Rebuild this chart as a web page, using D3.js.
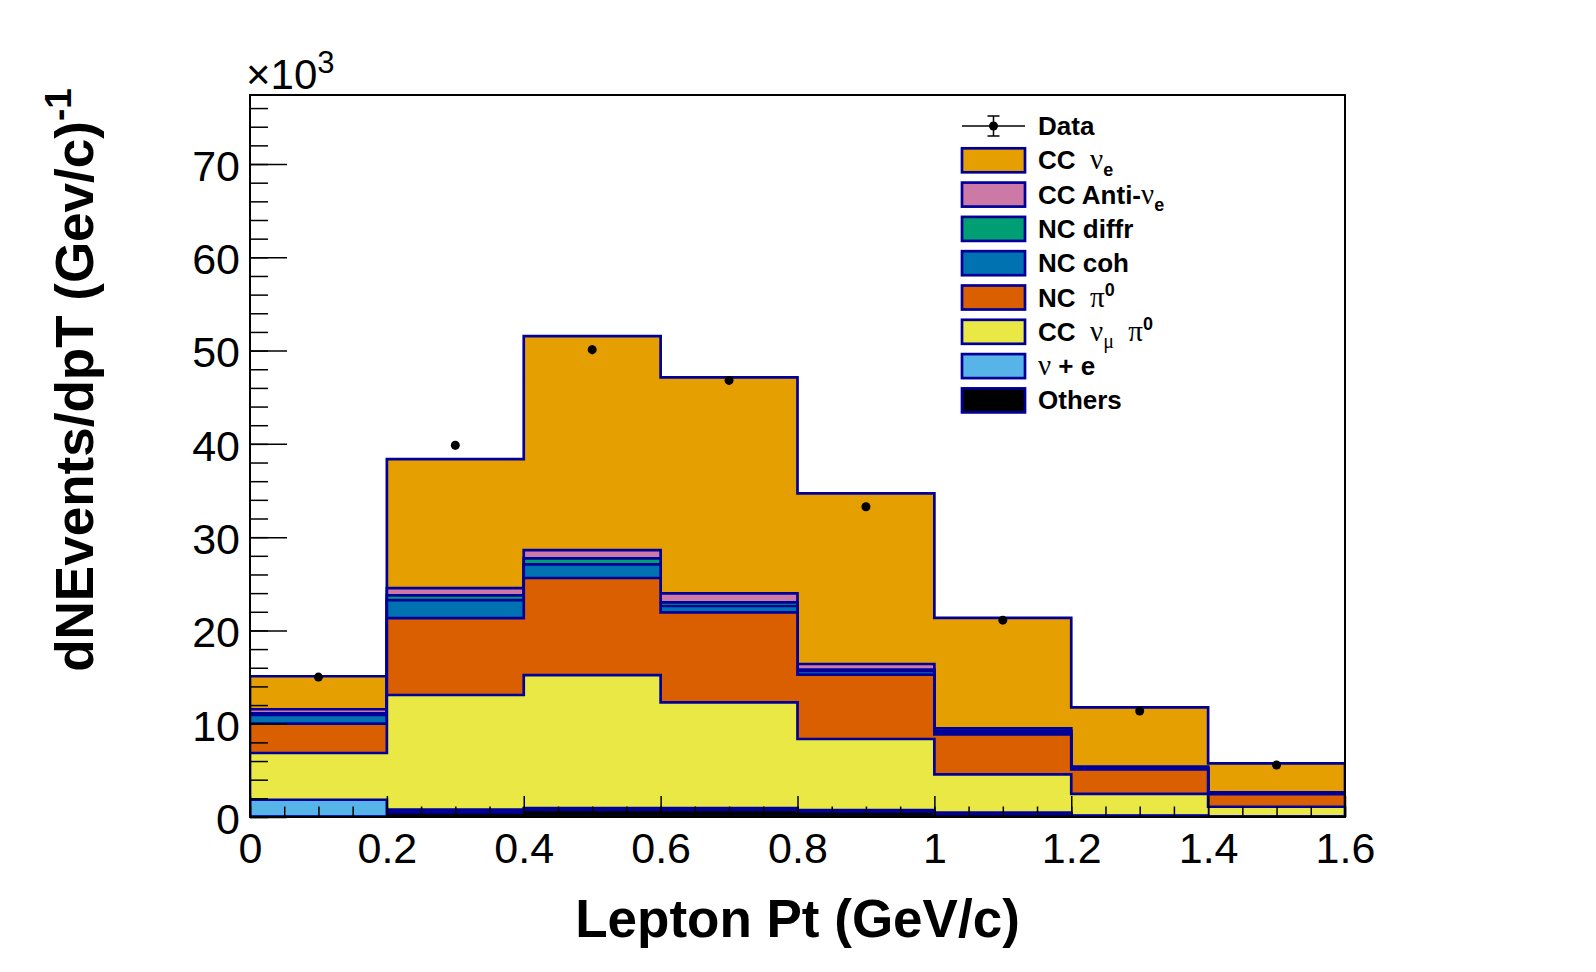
<!DOCTYPE html>
<html>
<head>
<meta charset="utf-8">
<script src="https://cdn.jsdelivr.net/npm/d3@7"></script>
<style>
  body { margin: 0; background: #fff; }
  text { font-family: "Liberation Sans", Arial, sans-serif; }
  .greek { font-family: "Liberation Serif", "DejaVu Serif", serif; font-weight: normal; }
</style>
</head>
<body>
<script>
// bin edges of Lepton Pt (GeV/c)
var binEdges = [0, 0.2, 0.4, 0.6, 0.8, 1.0, 1.2, 1.4, 1.6];

// dN/dpT per bin, in units of 10^3
var others     = [0.05, 0.5, 0.75, 0.75, 0.6, 0.35, 0.1, 0.03];
var nuE        = [1.8, 0.3, 0.21, 0.21, 0.15, 0.11, 0.05, 0.02];
var ccNumuPi0  = [5.01, 12.28, 14.26, 11.33, 7.61, 4.12, 2.32, 1.05];
var ncPi0      = [3.14, 8.25, 10.4, 9.65, 6.91, 4.28, 2.62, 1.34];
var ncCoh      = [0.95, 1.93, 1.46, 0.68, 0.38, 0.3, 0.15, 0.1];
var ncDiffr    = [0.15, 0.5, 0.65, 0.39, 0.15, 0.1, 0.05, 0.02];
var ccAntiNue  = [0.45, 0.78, 0.89, 0.97, 0.6, 0.25, 0.12, 0.08];
var ccNue      = [3.54, 13.83, 22.93, 23.15, 18.29, 11.84, 6.35, 3.11];

var dataValues = [15.0, 39.85, 50.1, 46.8, 33.26, 21.1, 11.36, 5.57];
var dataErrors = [0.27, 0.45, 0.5, 0.48, 0.41, 0.32, 0.24, 0.17];

var xTicks = [0, 0.2, 0.4, 0.6, 0.8, 1.0, 1.2, 1.4, 1.6];
var yTicks = [0, 10, 20, 30, 40, 50, 60, 70];

// stack order, bottom first
var layers = [
  {name: "Others", values: others, color: "#000000"},
  {name: "nu+e", values: nuE, color: "#56b4e9"},
  {name: "CC numu pi0", values: ccNumuPi0, color: "#eae844"},
  {name: "NC pi0", values: ncPi0, color: "#d95f00"},
  {name: "NC coh", values: ncCoh, color: "#0072b2"},
  {name: "NC diffr", values: ncDiffr, color: "#009e73"},
  {name: "CC anti-nue", values: ccAntiNue, color: "#cc79a7"},
  {name: "CC nue", values: ccNue, color: "#e69f00"}
];

var W = 1596, H = 972;
var frame = {left: 250, top: 95, right: 1345, bottom: 817};
var lineBlue = "#000099";
var NB = "\u00a0";

var svg = d3.select("body").append("svg")
  .attr("width", W).attr("height", H);

var x = d3.scaleLinear().domain([0, 1.6]).range([frame.left, frame.right]);
var y = d3.scaleLinear().domain([0, 77.4]).range([frame.bottom, frame.top]);

svg.append("clipPath").attr("id", "clip")
  .append("rect")
  .attr("x", frame.left).attr("y", frame.top)
  .attr("width", frame.right - frame.left)
  .attr("height", frame.bottom - frame.top);

// cumulative sums for the stack
var cum = [];
var running = binEdges.slice(1).map(function() { return 0; });
layers.forEach(function(l) {
  running = running.map(function(v, i) { return v + l.values[i]; });
  cum.push(running.slice());
});

var area = d3.area()
  .curve(d3.curveStepAfter)
  .x(function(d) { return x(d.x); })
  .y0(y(0))
  .y1(function(d) { return y(d.v); });

var plot = svg.append("g").attr("clip-path", "url(#clip)");

// draw from the total down, like a THStack
for (var k = layers.length - 1; k >= 0; k--) {
  var pts = binEdges.map(function(e, i) {
    var v = i < cum[k].length ? cum[k][i] : cum[k][cum[k].length - 1];
    return {x: e, v: v};
  });
  plot.append("path")
    .attr("d", area(pts))
    .style("fill", layers[k].color)
    .style("stroke", lineBlue)
    .style("stroke-width", 2.7)
    .style("stroke-linejoin", "miter");
}

// data points
var centers = binEdges.slice(1).map(function(e, i) { return (e + binEdges[i]) / 2; });
var dp = plot.selectAll(".pt")
  .data(dataValues)
  .enter().append("g");
dp.append("line")
  .attr("x1", function(d, i) { return x(centers[i]); })
  .attr("x2", function(d, i) { return x(centers[i]); })
  .attr("y1", function(d, i) { return y(d - dataErrors[i]); })
  .attr("y2", function(d, i) { return y(d + dataErrors[i]); })
  .style("stroke", "#000").style("stroke-width", 1.5);
dp.append("circle")
  .attr("cx", function(d, i) { return x(centers[i]); })
  .attr("cy", function(d) { return y(d); })
  .attr("r", 4.5)
  .style("fill", "#000");

// axes
var xMinor = d3.range(0, 1.6001, 0.05).map(function(v) { return +v.toFixed(2); });
var yMinor = d3.range(0, 77.4, 2);

svg.append("g")
  .attr("transform", "translate(0," + frame.bottom + ")")
  .call(d3.axisBottom(x).tickValues(xMinor).tickSize(-10.5).tickFormat(""))
  .call(function(g) { g.select(".domain").remove(); });

svg.append("g")
  .attr("class", "x axis")
  .attr("transform", "translate(0," + frame.bottom + ")")
  .call(d3.axisBottom(x).tickValues(xTicks).tickSize(-21).tickPadding(15)
        .tickFormat(function(d) { return d3.format("")(+d.toFixed(1)); }))
  .call(function(g) { g.select(".domain").remove(); })
  .selectAll("text")
    .style("font-size", "43px")
    .style("font-family", "Liberation Sans, Arial, sans-serif");

svg.append("g")
  .attr("transform", "translate(" + frame.left + ",0)")
  .call(d3.axisLeft(y).tickValues(yMinor).tickSize(-18).tickFormat(""))
  .call(function(g) { g.select(".domain").remove(); });

svg.append("g")
  .attr("class", "y axis")
  .attr("transform", "translate(" + frame.left + ",0)")
  .call(d3.axisLeft(y).tickValues(yTicks).tickSize(-37).tickPadding(10))
  .call(function(g) { g.select(".domain").remove(); })
  .selectAll("text")
    .attr("dy", "0.38em")
    .style("font-size", "43px")
    .style("font-family", "Liberation Sans, Arial, sans-serif");

svg.selectAll(".tick line").style("stroke", "#000").style("stroke-width", 1.5);

// frame
svg.append("rect")
  .attr("x", frame.left).attr("y", frame.top)
  .attr("width", frame.right - frame.left)
  .attr("height", frame.bottom - frame.top)
  .style("fill", "none").style("stroke", "#000").style("stroke-width", 2);

// x10^3
var mult = svg.append("text")
  .attr("x", frame.left - 4).attr("y", 89)
  .style("font-size", "42px");
mult.append("tspan").text("\u00d710");
mult.append("tspan").attr("dy", -16).style("font-size", "31px").text("3");

// axis titles
svg.append("text")
  .attr("x", (frame.left + frame.right) / 2)
  .attr("y", 937)
  .attr("text-anchor", "middle")
  .style("font-size", "53px").style("font-weight", "bold")
  .text("Lepton Pt (GeV/c)");

var yt = svg.append("text")
  .attr("transform", "translate(93,380) rotate(-90)")
  .attr("text-anchor", "middle")
  .style("font-size", "53px").style("font-weight", "bold");
yt.append("tspan").text("dNEvents/dpT (Gev/c)");
yt.append("tspan").attr("dy", -22).style("font-size", "37px").text("-1");

// legend
var legendItems = [
  {label: [["CC" + NB + NB], ["\u03bd", "greek"], ["e", "sub"]], color: "#e69f00"},
  {label: [["CC Anti-"], ["\u03bd", "greek"], ["e", "sub"]], color: "#cc79a7"},
  {label: [["NC diffr"]], color: "#009e73"},
  {label: [["NC coh"]], color: "#0072b2"},
  {label: [["NC" + NB + NB], ["\u03c0", "greek"], ["0", "sup"]], color: "#d95f00"},
  {label: [["CC" + NB + NB], ["\u03bd", "greek"], ["\u03bc", "subgreek"], [NB + NB], ["\u03c0", "greek"], ["0", "sup"]], color: "#eae844"},
  {label: [["\u03bd", "greek"], [" + e"]], color: "#56b4e9"},
  {label: [["Others"]], color: "#000000"}
];

var lg = svg.append("g").attr("class", "legend");
var rowY0 = 126, rowStep = 34.3;
var boxX = 962, boxW = 63, boxH = 24, textX = 1038;

// Data entry
lg.append("line").attr("x1", boxX).attr("x2", boxX + boxW)
  .attr("y1", rowY0).attr("y2", rowY0)
  .style("stroke", "#000").style("stroke-width", 1.5);
lg.append("line").attr("x1", boxX + boxW / 2).attr("x2", boxX + boxW / 2)
  .attr("y1", rowY0 - 10).attr("y2", rowY0 + 10)
  .style("stroke", "#000").style("stroke-width", 1.5);
[rowY0 - 10, rowY0 + 10].forEach(function(cy) {
  lg.append("line").attr("x1", boxX + boxW / 2 - 6).attr("x2", boxX + boxW / 2 + 6)
    .attr("y1", cy).attr("y2", cy)
    .style("stroke", "#000").style("stroke-width", 1.5);
});
lg.append("circle").attr("cx", boxX + boxW / 2).attr("cy", rowY0).attr("r", 4.5)
  .style("fill", "#000");
lg.append("text").attr("x", textX).attr("y", rowY0 + 9)
  .style("font-size", "26px").style("font-weight", "bold").text("Data");

legendItems.forEach(function(item, i) {
  var cy = rowY0 + (i + 1) * rowStep;
  lg.append("rect")
    .attr("x", boxX).attr("y", cy - boxH / 2)
    .attr("width", boxW).attr("height", boxH)
    .style("fill", item.color)
    .style("stroke", lineBlue).style("stroke-width", 2.7);
  var t = lg.append("text").attr("x", textX).attr("y", cy + 9)
    .style("font-size", "26px").style("font-weight", "bold");
  var shift = 0;
  item.label.forEach(function(part) {
    var s = t.append("tspan").text(part[0]);
    var own = 0;
    if (part[1] === "greek") {
      s.attr("class", "greek").style("font-size", "29px");
    } else if (part[1] === "sub") {
      s.style("font-size", "18px"); own = 7;
    } else if (part[1] === "subgreek") {
      s.attr("class", "greek").style("font-size", "20px"); own = 7;
    } else if (part[1] === "sup") {
      s.style("font-size", "18px"); own = -11;
    }
    // keep baseline shifts relative to the main baseline
    if (own !== shift) s.attr("dy", own - shift);
    shift = own;
  });
});
</script>
</body>
</html>
